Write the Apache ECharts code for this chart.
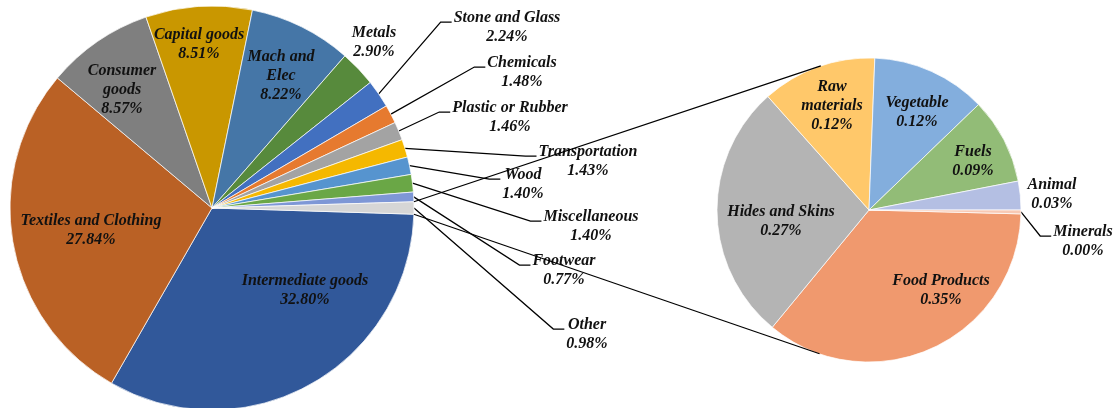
<!DOCTYPE html>
<html>
<head>
<meta charset="utf-8">
<title>Pie of pie</title>
<script src="https://cdn.jsdelivr.net/npm/echarts@6/dist/echarts.min.js"></script>
<style>
    html, body { margin: 0; padding: 0; background: #fff; }
    #chart { width: 1118px; height: 408px; }
</style>
</head>
<body>
<div id="chart"></div>
<script>
// main pie, clockwise from just below 3 o'clock
const mainNames = ['Intermediate goods', 'Textiles and Clothing', 'Consumer goods', 'Capital goods', 'Mach and Elec',
    'Metals', 'Stone and Glass', 'Chemicals', 'Plastic or Rubber', 'Transportation', 'Wood', 'Miscellaneous', 'Footwear', 'Other'];
const mainValues = [32.80, 27.84, 8.57, 8.51, 8.22, 2.90, 2.24, 1.48, 1.46, 1.43, 1.40, 1.40, 0.77, 0.98];

// "Other" split out into the second pie
const subNames = ['Food Products', 'Hides and Skins', 'Raw materials', 'Vegetable', 'Fuels', 'Animal', 'Minerals'];
const subValues = [0.35, 0.27, 0.12, 0.12, 0.09, 0.03, 0.004];

const mainColors = ['#31589a', '#ba6125', '#7f7f7f', '#c99700', '#4576a7', '#578a3c', '#4270c0',
    '#e67a2f', '#a3a3a3', '#f5b800', '#5694cf', '#6aa746', '#7e97d6', '#d6d6d6'];
const subColors = ['#f0996e', '#b4b4b4', '#ffc86a', '#83aedd', '#92bc77', '#b4bfe3', '#f8c9b4'];

// layout
const MAIN_C = [212, 208], MAIN_R = 202;
const SUB_C = [869, 210], SUB_R = 152;

// label block centres
const labelSpots = {
    'Intermediate goods': [305, 290], 'Textiles and Clothing': [91, 230], 'Consumer goods': [122, 90],
    'Capital goods': [199, 44], 'Mach and Elec': [281, 76], 'Metals': [374, 42],
    'Stone and Glass': [507, 27], 'Chemicals': [522, 72], 'Plastic or Rubber': [510, 117],
    'Transportation': [588, 161], 'Wood': [523, 184], 'Miscellaneous': [591, 226],
    'Footwear': [564, 270], 'Other': [587, 334],
    'Food Products': [941, 290], 'Hides and Skins': [781, 221], 'Raw materials': [832, 106],
    'Vegetable': [917, 112], 'Fuels': [973, 161], 'Animal': [1052, 194], 'Minerals': [1083, 241]
};
const lined = ['Stone and Glass', 'Chemicals', 'Plastic or Rubber', 'Transportation', 'Wood',
    'Miscellaneous', 'Footwear', 'Other', 'Minerals'];
const wrapped = { 'Consumer goods': 'Consumer\ngoods', 'Mach and Elec': 'Mach and\nElec', 'Raw materials': 'Raw\nmaterials' };

function sum(arr) { return arr.reduce((a, b) => a + b, 0); }

function buildData(names, values, colors) {
    return names.map((n, i) => ({
        name: n,
        value: values[i],
        itemStyle: { color: colors[i] },
        labelLine: { show: lined.indexOf(n) >= 0 }
    }));
}

function layoutFor(names) {
    return function (p) {
        const name = names[p.dataIndex];
        const spot = labelSpots[name];
        const res = { x: spot[0], y: spot[1], align: 'center', verticalAlign: 'middle' };
        if (lined.indexOf(name) >= 0 && p.labelLinePoints) {
            const left = spot[0] - p.labelRect.width / 2;
            const ly = spot[1] - 5;
            res.labelLinePoints = [p.labelLinePoints[0], [left - 13, ly], [left - 2, ly]];
        }
        return res;
    };
}

const labelStyle = {
    show: true,
    position: 'outside',
    color: '#111',
    fontFamily: 'Liberation Serif',
    fontWeight: 'bold',
    fontStyle: 'italic',
    fontSize: 16,
    lineHeight: 19,
    formatter: p => (wrapped[p.name] || p.name) + '\n' + p.value.toFixed(2) + '%'
};

// other slice sits centred on 3 o'clock
const mainTotal = sum(mainValues);
const otherHalf = mainValues[mainValues.length - 1] / mainTotal * Math.PI;
const mainStart = -otherHalf * 180 / Math.PI;
const subStart = -subValues[subValues.length - 1] / sum(subValues) * 360;

// connector lines: from the corners of "Other" tangent to the second pie
function tangent(px, py, upper) {
    const dx = px - SUB_C[0], dy = py - SUB_C[1];
    const d = Math.sqrt(dx * dx + dy * dy);
    const a = Math.atan2(dy, dx), f = Math.acos(SUB_R / d);
    const p1 = [SUB_C[0] + SUB_R * Math.cos(a + f), SUB_C[1] + SUB_R * Math.sin(a + f)];
    const p2 = [SUB_C[0] + SUB_R * Math.cos(a - f), SUB_C[1] + SUB_R * Math.sin(a - f)];
    return (p1[1] < p2[1]) === upper ? p1 : p2;
}
const cornerX = MAIN_C[0] + MAIN_R * Math.cos(otherHalf);
const upY = MAIN_C[1] - MAIN_R * Math.sin(otherHalf);
const lowY = MAIN_C[1] + MAIN_R * Math.sin(otherHalf);
const tUp = tangent(cornerX, upY, true);
const tLow = tangent(cornerX, lowY, false);

let chat = echarts.init(document.getElementById('chart'));
chat.setOption({
    animation: false,
    graphic: [
        { type: 'line', z: 10, shape: { x1: cornerX, y1: upY, x2: tUp[0], y2: tUp[1] }, style: { stroke: '#000', lineWidth: 1.25 } },
        { type: 'line', z: 10, shape: { x1: cornerX, y1: lowY, x2: tLow[0], y2: tLow[1] }, style: { stroke: '#000', lineWidth: 1.25 } }
    ],
    series: [
        {
            type: 'pie',
            center: MAIN_C,
            radius: MAIN_R,
            startAngle: mainStart,
            clockwise: true,
            avoidLabelOverlap: false,
            itemStyle: { borderColor: '#fff', borderWidth: 0.7 },
            label: labelStyle,
            labelLine: { lineStyle: { color: '#000', width: 1.25 }, smooth: false },
            labelLayout: layoutFor(mainNames),
            emphasis: { disabled: true },
            data: buildData(mainNames, mainValues, mainColors)
        },
        {
            type: 'pie',
            center: SUB_C,
            radius: SUB_R,
            startAngle: subStart,
            clockwise: true,
            avoidLabelOverlap: false,
            itemStyle: { borderColor: '#fff', borderWidth: 0.7 },
            label: labelStyle,
            labelLine: { lineStyle: { color: '#000', width: 1.25 }, smooth: false },
            labelLayout: layoutFor(subNames),
            emphasis: { disabled: true },
            data: buildData(subNames, subValues, subColors)
        }
    ]
});
</script>
</body>
</html>
